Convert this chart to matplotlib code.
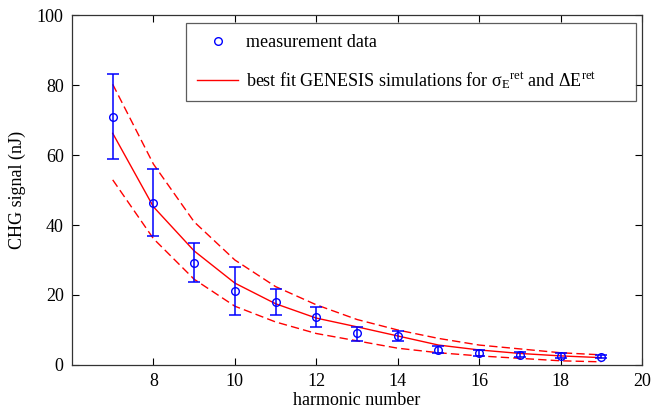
import matplotlib
matplotlib.use('Agg')
import matplotlib.pyplot as plt
import numpy as np

plt.rcParams['font.family'] = ['Liberation Serif', 'DejaVu Serif']
plt.rcParams['mathtext.fontset'] = 'custom'
plt.rcParams['mathtext.rm'] = 'Liberation Serif'
plt.rcParams['mathtext.it'] = 'Liberation Serif:italic'

# harmonic numbers
harmonics = [7, 8, 9, 10, 11, 12, 13, 14, 15, 16, 17, 18, 19]

# measured CHG signal (nJ) and error bar half-ranges
meas = [71.0, 46.4, 29.2, 21.1, 18.0, 13.7, 9.0, 8.3, 4.3, 3.5, 2.9, 2.7, 2.4]
err_up = [12.2, 9.6, 5.6, 7.0, 3.7, 2.8, 1.9, 1.4, 1.0, 0.8, 0.7, 0.7, 0.5]
err_lo = [12.2, 9.5, 5.4, 6.9, 3.8, 2.8, 2.1, 1.4, 1.0, 0.8, 0.7, 0.7, 0.5]

# GENESIS best fit and its upper / lower bounds
fit = [66.2, 45.2, 32.6, 23.4, 17.5, 13.4, 10.9, 8.3, 5.7, 4.3, 3.3, 2.6, 2.1]
fit_hi = [80.2, 57.4, 40.9, 30.0, 22.4, 17.2, 13.0, 10.0, 7.6, 5.7, 4.6, 3.5, 2.9]
fit_lo = [52.9, 36.1, 24.5, 16.8, 12.3, 9.0, 6.9, 4.8, 3.5, 2.6, 1.9, 1.2, 0.9]

fig = plt.figure(figsize=(6.51, 4.18), dpi=100)
ax = fig.add_axes([0.1106, 0.1268, 0.8756, 0.8373])

red = '#ff0000'
blue = '#0000ff'

ax.plot(harmonics, fit, color=red, lw=1.0,
        label=r'best fit GENESIS simulations for $\mathrm{σ}_{\mathrm{E}}{}^{\mathrm{ret}}$ and ΔE$^{\mathrm{ret}}$')
ax.plot(harmonics, fit_hi, color=red, lw=1.0, dashes=(6, 3))
ax.plot(harmonics, fit_lo, color=red, lw=1.0, dashes=(6, 3))

ax.errorbar(harmonics, meas, yerr=[err_lo, err_up], fmt='none', ecolor=blue,
            elinewidth=1.1, capsize=4, capthick=1.1)
ax.plot(harmonics, meas, 'o', mfc='none', mec=blue, ms=5.5, mew=1.0,
        label='measurement data')

ax.set_xlim(6, 20)
ax.set_ylim(0, 100)
ax.set_xticks(np.arange(8, 21, 2))
ax.set_yticks(np.arange(0, 101, 20))
ax.tick_params(direction='in', top=True, right=True, labelsize=13, length=5,
               width=0.8, pad=6)
for s in ax.spines.values():
    s.set_linewidth(0.9)
    s.set_color('#333333')

ax.set_xlabel('harmonic number', fontsize=13, labelpad=1)
ax.set_ylabel('CHG signal (nJ)', fontsize=13, labelpad=8)

h, l = ax.get_legend_handles_labels()
leg = ax.legend(h[::-1], l[::-1], loc='upper left',
                bbox_to_anchor=(0.2, 0.754, 0.7895, 0.223), mode='expand',
                borderaxespad=0, fontsize=13, frameon=True, fancybox=False,
                edgecolor='#333333', handlelength=2.3, borderpad=0.6,
                labelspacing=1.05, handletextpad=0.45)
leg.get_frame().set_linewidth(0.9)

fig.savefig('out.png', dpi=100)
